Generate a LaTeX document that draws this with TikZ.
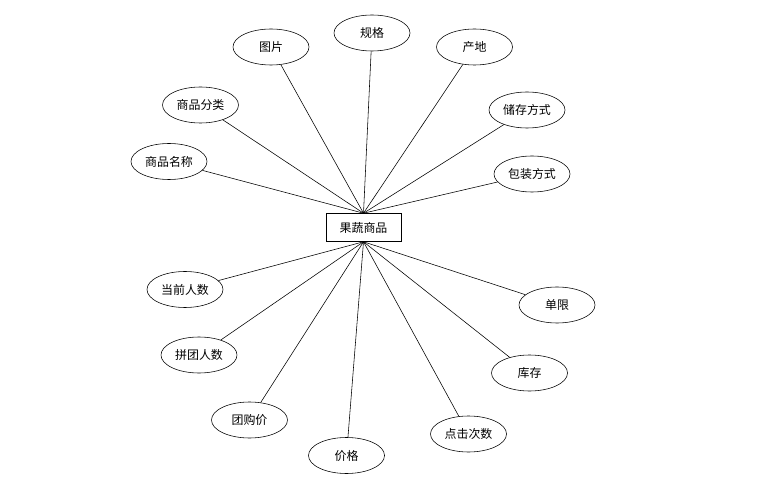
\documentclass[tikz,border=0pt]{standalone}
\usepackage{fontspec}
\newfontfamily\cjk{Noto Sans CJK SC}
\usetikzlibrary{shapes.geometric}

\begin{document}
\begin{tikzpicture}[x=0.025cm, y=-0.025cm, font=\cjk\fontsize{8.5}{10}\selectfont,
		attr/.style={draw, ellipse, minimum width=1.9cm, minimum height=0.9cm, inner sep=0pt},
		entity/.style={draw, rectangle, minimum width=1.875cm, minimum height=0.7cm, inner sep=0pt}]
		\useasboundingbox (0,0) rectangle (761,484);
		\node (goods) [entity] at (363.5,227.5) {果蔬商品};
		
		\node (pic) [attr] at (271,47) {图片};
		\node (spec) [attr] at (372,33) {规格};
		\node (origin) [attr] at (474.5,47) {产地};
		\node (storage) [attr] at (527,110) {储存方式};
		\node (pack) [attr] at (532,174) {包装方式};
		\node (cat) [attr] at (200.5,105) {商品分类};
		\node (name) [attr] at (169,161.5) {商品名称};
		
		\node (curnum) [attr] at (185,289.5) {当前人数};
		\node (groupnum) [attr] at (199,355) {拼团人数};
		\node (groupprice) [attr] at (249.5,420) {团购价};
		\node (price) [attr] at (346.5,455.5) {价格};
		\node (clicks) [attr] at (468.5,434) {点击次数};
		\node (stock) [attr] at (529.5,373) {库存};
		\node (limit) [attr] at (557,305) {单限};
		
		\foreach \a in {pic, spec, origin, storage, pack, cat, name}
			\draw (\a) -- (goods.north);
		\foreach \a in {curnum, groupnum, groupprice, price, clicks, stock, limit}
			\draw (\a) -- (goods.south);
	\end{tikzpicture}
\end{document}
